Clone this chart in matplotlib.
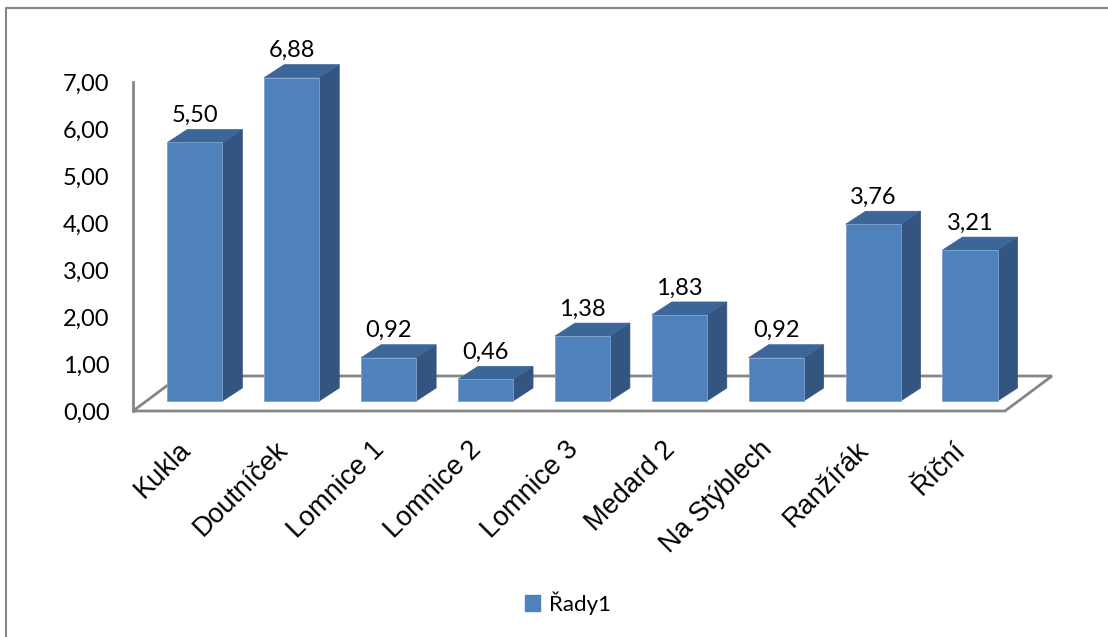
import matplotlib
matplotlib.use("Agg")
import matplotlib.pyplot as plt
from matplotlib.patches import Polygon, Patch
from matplotlib.lines import Line2D

# Data
categories = ["Kukla", "Doutníček", "Lomnice 1", "Lomnice 2", "Lomnice 3",
              "Medard 2", "Na Stýblech", "Ranžírák", "Říční"]
values = [5.50, 6.88, 0.92, 0.46, 1.38, 1.83, 0.92, 3.76, 3.21]
series_name = "Řady1"
y_ticks = [0, 1, 2, 3, 4, 5, 6, 7]

W, H = 1108, 637
fig = plt.figure(figsize=(W / 100, H / 100), dpi=100)

# colours
c_front = "#4F81BD"
c_side = "#34557F"
c_top = "#3C6698"
c_axis = "#868686"

# outer chart border (only left / top are visible in the crop)
border = Line2D([6 / W, 6 / W, 1.0], [0.0, 1 - 8 / H, 1 - 8 / H],
                transform=fig.transFigure, color=c_axis, lw=1.5)
fig.add_artist(border)

# plot area: value axis from y=411px (0) to y=82px (7)
ax = fig.add_axes([133 / W, (H - 411) / H, 872 / W, 329 / H])
ax.set_xlim(-0.5, len(categories) - 0.5)
ax.set_ylim(0, 7)
for s in ["top", "right", "bottom"]:
    ax.spines[s].set_visible(False)
ax.spines["left"].set_color(c_axis)
ax.spines["left"].set_linewidth(2)
ax.set_xticks([])
ax.set_yticks(y_ticks)
ax.set_yticklabels([f"{t:.2f}".replace(".", ",") for t in y_ticks],
                   fontfamily="Lato", fontsize=17)
ax.tick_params(axis="y", length=0, pad=17)
ax.patch.set_alpha(0)

# 3D-ish geometry (data units)
DX, DY = 0.485, 0.745      # floor depth
ddx, ddy = 0.206, 0.277    # bar depth
w = 0.568                  # bar width
t = 0.286                  # bar position inside floor depth

n = len(categories)
floor = Polygon([(-0.5, 0), (n - 0.5, 0), (n - 0.5 + DX, DY), (-0.5 + DX, DY)],
                closed=True, facecolor="white", edgecolor=c_axis, lw=2,
                clip_on=False, zorder=1)
ax.add_patch(floor)

for i, v in enumerate(values):
    bx = i - w / 2 + t * DX
    by = t * DY
    front = Polygon([(bx, by), (bx + w, by), (bx + w, by + v), (bx, by + v)],
                    facecolor=c_front, edgecolor="#7FA2CF", lw=0.6,
                    clip_on=False, zorder=3)
    side = Polygon([(bx + w, by), (bx + w + ddx, by + ddy),
                    (bx + w + ddx, by + v + ddy), (bx + w, by + v)],
                   facecolor=c_side, edgecolor=c_side, lw=0.5,
                   clip_on=False, zorder=2)
    top = Polygon([(bx, by + v), (bx + w, by + v),
                   (bx + w + ddx, by + v + ddy), (bx + ddx, by + v + ddy)],
                  facecolor=c_top, edgecolor=c_top, lw=0.5,
                  clip_on=False, zorder=2)
    ax.add_patch(side)
    ax.add_patch(top)
    ax.add_patch(front)
    ax.annotate(f"{v:.2f}".replace(".", ","), (i + t * DX, by + v),
                xytext=(0, 19.5), textcoords="offset points",
                ha="center", va="center", fontfamily="Lato", fontsize=17,
                annotation_clip=False)

# category labels, rotated 45 degrees
for i, c in enumerate(categories):
    ax.annotate(c, (i, 0), xytext=(4, -25), textcoords="offset points",
                ha="right", va="center", rotation=45, rotation_mode="anchor",
                fontfamily="Liberation Sans", fontsize=19.5,
                annotation_clip=False)

# legend
fig.legend(handles=[Patch(facecolor=c_front, edgecolor=c_front)],
           labels=[series_name], loc="center",
           bbox_to_anchor=(568 / W, 1 - 603 / H), frameon=False,
           handlelength=0.7, handleheight=0.7, handletextpad=0.4,
           prop={"family": "Lato", "size": 16})

fig.savefig("out.png", dpi=100)
